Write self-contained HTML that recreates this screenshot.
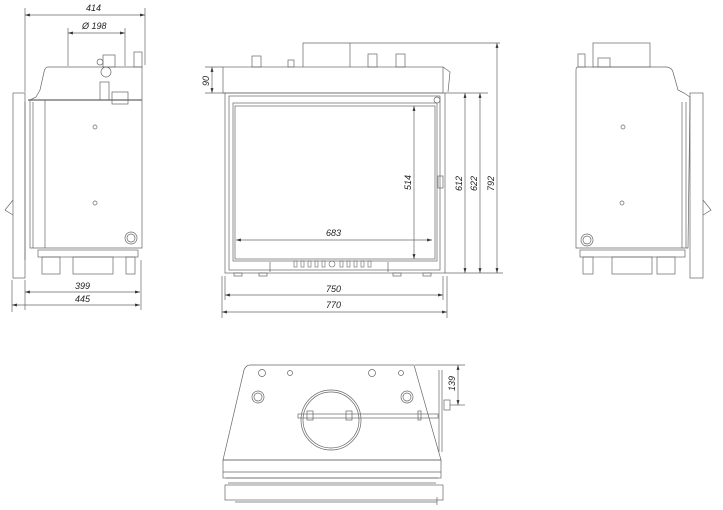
<!DOCTYPE html>
<html><head><meta charset="utf-8"><style>
html,body{margin:0;padding:0;background:#fff;}
svg{display:block;}
text{font-family:"Liberation Sans",sans-serif;font-size:9px;font-style:italic;fill:#222;}
</style></head><body>
<svg width="723" height="510" viewBox="0 0 723 510" xmlns="http://www.w3.org/2000/svg">
<defs>
<marker id="a" viewBox="0 0 10 10" refX="10" refY="5" markerWidth="7" markerHeight="7" orient="auto-start-reverse"><path d="M0,2 L10,5 L0,8z" fill="#333"/></marker>
</defs>
<g fill="none" stroke="#666" stroke-width="0.7">
<!-- LEFT VIEW -->
<line x1="25" y1="8" x2="25" y2="92"/><line x1="145" y1="8" x2="145" y2="65"/>
<line x1="25" y1="15" x2="145" y2="15" marker-start="url(#a)" marker-end="url(#a)"/>
<line x1="68" y1="28" x2="68" y2="66"/><line x1="125" y1="28" x2="125" y2="66"/>
<line x1="68" y1="33" x2="125" y2="33" marker-start="url(#a)" marker-end="url(#a)"/>
<rect x="103" y="55" width="12" height="12"/><rect x="134" y="52" width="8" height="15"/>
<path d="M48,67 L142,67 L142,248 L30,248 L30,100 L36,97 L40,90 L44,72 Q45,67 48,67"/>
<line x1="28" y1="100" x2="142" y2="100" stroke-width="1.3"/>
<line x1="33" y1="102" x2="33" y2="248"/><line x1="45" y1="100" x2="45" y2="248"/>
<rect x="13" y="93" width="12" height="185"/>
<line x1="25" y1="102" x2="25" y2="260"/>
<path d="M13,200 L5,210 L13,215"/>
<circle cx="100" cy="62" r="3"/><circle cx="106" cy="72" r="5"/><rect x="100" y="82" width="9" height="18"/>
<rect x="112" y="92" width="16" height="12"/>
<circle cx="95" cy="127" r="2"/><circle cx="95" cy="203" r="2"/>
<circle cx="131" cy="238" r="6"/><circle cx="131" cy="238" r="4"/>
<rect x="38" y="250" width="100" height="7"/>
<rect x="42" y="257" width="18" height="17"/><rect x="73" y="257" width="40" height="17"/>
<rect x="126" y="257" width="9" height="17"/>
<line x1="25" y1="280" x2="25" y2="310"/><line x1="12" y1="280" x2="12" y2="312"/>
<line x1="141" y1="260" x2="141" y2="310"/>
<line x1="25" y1="292" x2="140" y2="292" marker-start="url(#a)" marker-end="url(#a)"/>
<line x1="12" y1="305" x2="140" y2="305" marker-start="url(#a)" marker-end="url(#a)"/>
<!-- FRONT VIEW -->
<path d="M303,67 L303,43 L500,43"/>
<line x1="350" y1="43" x2="350" y2="67"/>
<rect x="252" y="56" width="9" height="11"/><rect x="288" y="60" width="6" height="7"/>
<rect x="368" y="54" width="9" height="13"/><rect x="396" y="54" width="9" height="13"/>
<rect x="223" y="67" width="220" height="26"/>
<path d="M443,67 L450,72 L448,92"/>
<rect x="225" y="93" width="220" height="180"/>
<rect x="229" y="96" width="211" height="174"/>
<rect x="233" y="103" width="204" height="158"/>
<rect x="235" y="106" width="200" height="153"/>
<rect x="438" y="176" width="5" height="12"/>
<circle cx="437" cy="100" r="3"/>
<line x1="270" y1="262" x2="270" y2="272"/><line x1="388" y1="262" x2="388" y2="272"/>
<g stroke-width="0.6">
<rect x="294" y="261" width="3" height="6"/><rect x="301" y="261" width="3" height="6"/><rect x="308" y="261" width="3" height="6"/><rect x="315" y="261" width="3" height="6"/><rect x="322" y="261" width="3" height="6"/>
<rect x="340" y="261" width="3" height="6"/><rect x="347" y="261" width="3" height="6"/><rect x="354" y="261" width="3" height="6"/><rect x="361" y="261" width="3" height="6"/><rect x="368" y="261" width="3" height="6"/>
<circle cx="332" cy="264" r="3"/>
</g>
<rect x="234" y="273" width="8" height="3"/><rect x="259" y="273" width="8" height="3"/><rect x="393" y="273" width="8" height="3"/><rect x="423" y="273" width="8" height="3"/>
<line x1="205" y1="67" x2="223" y2="67"/><line x1="205" y1="93" x2="225" y2="93"/>
<line x1="212" y1="67" x2="212" y2="93" marker-start="url(#a)" marker-end="url(#a)"/>
<line x1="445" y1="93" x2="488" y2="93"/><line x1="445" y1="273" x2="503" y2="273"/>
<line x1="414" y1="106" x2="414" y2="259" marker-start="url(#a)" marker-end="url(#a)"/>
<line x1="236" y1="240" x2="432" y2="240" marker-start="url(#a)" marker-end="url(#a)"/>
<line x1="465" y1="93" x2="465" y2="273" marker-start="url(#a)" marker-end="url(#a)"/>
<line x1="480" y1="93" x2="480" y2="273" marker-start="url(#a)" marker-end="url(#a)"/>
<line x1="497" y1="43" x2="497" y2="273" marker-start="url(#a)" marker-end="url(#a)"/>
<line x1="222" y1="276" x2="222" y2="318"/><line x1="447" y1="276" x2="447" y2="318"/>
<line x1="225" y1="276" x2="225" y2="300"/><line x1="443" y1="276" x2="443" y2="300"/>
<line x1="225" y1="295" x2="443" y2="295" marker-start="url(#a)" marker-end="url(#a)"/>
<line x1="222" y1="312" x2="447" y2="312" marker-start="url(#a)" marker-end="url(#a)"/>
<!-- RIGHT VIEW -->
<rect x="593" y="43" width="57" height="24"/>
<rect x="598" y="58" width="12" height="9"/><rect x="578" y="54" width="7" height="13"/>
<path d="M578,67 L667,67 Q672,68 673,72 L678,90 L684,93 L690,97 L688,248 L576,248 L576,70 Q576,67 578,67"/>
<line x1="686" y1="102" x2="686" y2="248"/><line x1="682" y1="102" x2="682" y2="248"/>
<rect x="690" y="93" width="13" height="185"/>
<path d="M703,200 L711,210 L703,215"/>
<circle cx="623" cy="127" r="2"/><circle cx="622" cy="203" r="2"/>
<circle cx="587" cy="240" r="6"/><circle cx="587" cy="240" r="4"/>
<rect x="580" y="250" width="105" height="7"/>
<rect x="583" y="257" width="10" height="17"/><rect x="612" y="257" width="40" height="17"/><rect x="657" y="257" width="18" height="17"/>
<!-- BOTTOM VIEW -->
<path d="M250,365 L414,365 L441,460 L223,460 L244,370 Q246,365 250,365"/>
<rect x="223" y="460" width="218" height="18"/>
<line x1="223" y1="472" x2="441" y2="472"/>
<line x1="226" y1="478" x2="438" y2="478"/><line x1="228" y1="483" x2="436" y2="483"/>
<rect x="225" y="485" width="218" height="15"/>
<line x1="235" y1="502" x2="437" y2="502"/>
<circle cx="331" cy="420" r="30"/><circle cx="331" cy="420" r="28"/>
<circle cx="262" cy="373" r="3.5"/><circle cx="290" cy="373" r="2.5"/><circle cx="372" cy="373" r="3.5"/><circle cx="401" cy="373" r="2.5"/>
<circle cx="258" cy="397" r="6"/><circle cx="258" cy="397" r="4"/><circle cx="407" cy="397" r="6"/><circle cx="407" cy="397" r="4"/>
<rect x="298" y="414" width="140" height="4"/>
<rect x="307" y="411" width="6" height="9"/><rect x="346" y="411" width="6" height="9"/><rect x="418" y="411" width="3" height="9"/>
<line x1="439" y1="370" x2="439" y2="452"/><line x1="442" y1="370" x2="442" y2="452"/>
<rect x="444" y="400" width="6" height="10"/>
<line x1="437" y1="497" x2="437" y2="505"/>
<line x1="415" y1="365" x2="465" y2="365"/><line x1="450" y1="405" x2="465" y2="405"/>
<line x1="458" y1="365" x2="458" y2="405" marker-start="url(#a)" marker-end="url(#a)"/>
</g>
<text x="86" y="11">414</text>
<text x="82" y="29">Ø 198</text>
<text x="75" y="289">399</text>
<text x="75" y="302">445</text>
<text x="326" y="236">683</text>
<text x="326" y="292">750</text>
<text x="326" y="308">770</text>
<text transform="translate(209,86) rotate(-90)">90</text>
<text transform="translate(411,190) rotate(-90)">514</text>
<text transform="translate(462,191) rotate(-90)">612</text>
<text transform="translate(477,191) rotate(-90)">622</text>
<text transform="translate(494,191) rotate(-90)">792</text>
<text transform="translate(455,391) rotate(-90)">139</text>
</svg>
</body></html>
